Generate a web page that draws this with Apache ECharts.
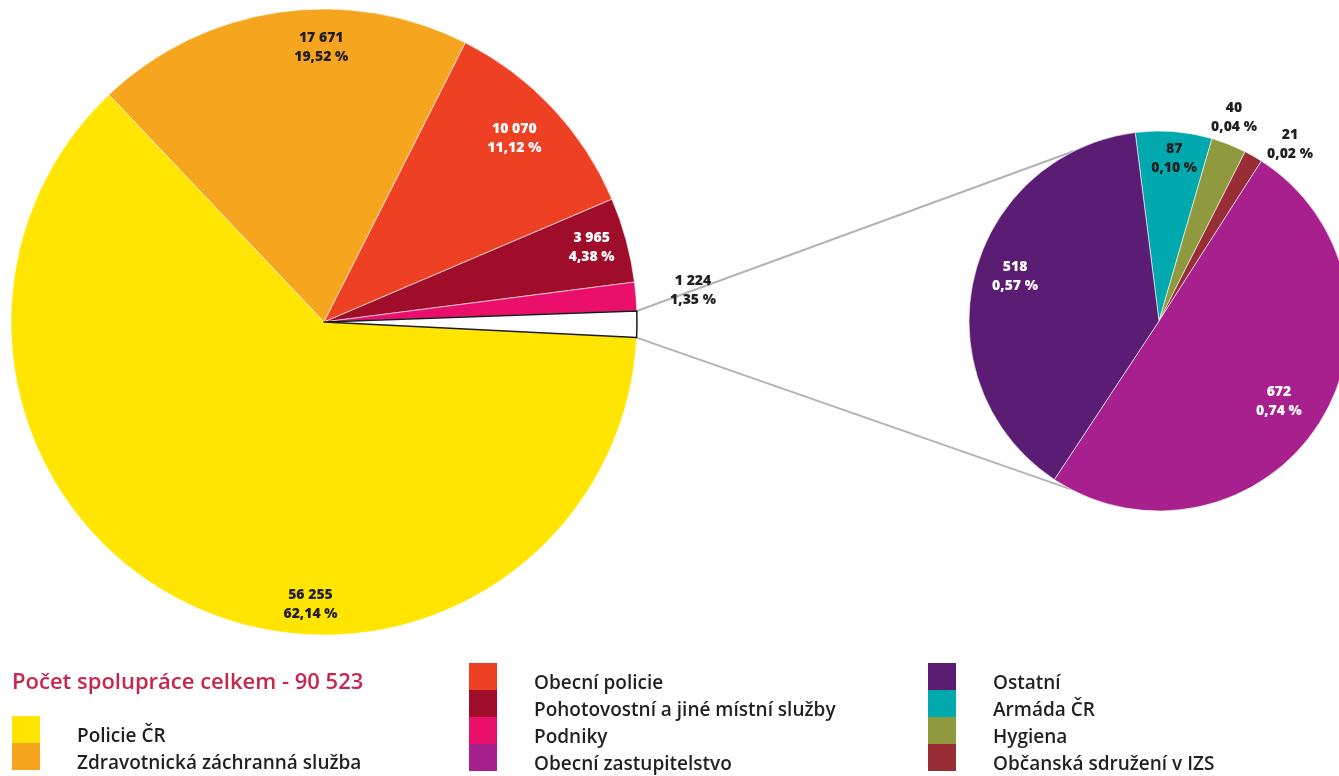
<!DOCTYPE html>
<html><head><meta charset="utf-8">
<script src="https://cdn.jsdelivr.net/npm/echarts@6/dist/echarts.min.js"></script>
<style>html,body{margin:0;padding:0;background:#fff}#c{width:1339px;height:776px}</style>
</head><body><div id="c"></div>
<script>
// ---- data ----
const mainNames = ['Policie ČR','Zdravotnická záchranná služba','Obecní policie','Pohotovostní a jiné místní služby','Podniky','Ostatní subjekty'];
const mainValues = [56255, 17671, 10070, 3965, 1338, 1224];
const subNames = ['Armáda ČR','Hygiena','Občanská sdružení v IZS','Obecní zastupitelstvo','Ostatní'];
const subValues = [87, 40, 21, 672, 518];
const legendCol1 = ['Policie ČR','Zdravotnická záchranná služba'];
const legendCol2 = ['Obecní policie','Pohotovostní a jiné místní služby','Podniky','Obecní zastupitelstvo'];
const legendCol3 = ['Ostatní','Armáda ČR','Hygiena','Občanská sdružení v IZS'];
const titleText = 'Počet spolupráce celkem - ';

// ---- styles ----
const colors = {
  'Policie ČR':'#ffe500',
  'Zdravotnická záchranná služba':'#f6a51f',
  'Obecní policie':'#ee4124',
  'Pohotovostní a jiné místní služby':'#a00d2b',
  'Podniky':'#ea0f6b',
  'Ostatní subjekty':'#ffffff',
  'Armáda ČR':'#00a9ad',
  'Hygiena':'#8f9a3e',
  'Občanská sdružení v IZS':'#992d35',
  'Obecní zastupitelstvo':'#a81f8e',
  'Ostatní':'#5b1c74'
};
const labelStyle = {
  'Policie ČR':{offset:[99,38], color:'#231f20'},
  'Zdravotnická záchranná služba':{offset:[36,-8], color:'#231f20'},
  'Obecní policie':{offset:[-6,0], color:'#ffffff'},
  'Pohotovostní a jiné místní služby':{offset:[8,-4], color:'#ffffff'},
  'Podniky':null,
  'Ostatní subjekty':{offset:[100,-33], color:'#231f20'},
  'Armáda ČR':{offset:[3,-8], color:'#231f20'},
  'Hygiena':{offset:[18,-59], color:'#231f20'},
  'Občanská sdružení v IZS':{offset:[54,-42], color:'#231f20'},
  'Obecní zastupitelstvo':{offset:[-10,-4], color:'#ffffff'},
  'Ostatní':{offset:[7,-9], color:'#ffffff'}
};

const total = mainValues.reduce((a,b)=>a+b,0);
const fmtNum = v => String(v).replace(/\B(?=(\d{3})+(?!\d))/g,' ');
const fmtPct = v => (v/total*100).toFixed(2).replace('.',',') + ' %';

const C1 = [324, 322], R1 = 313, S1 = 357.14;
const C2 = [1159, 321], R2 = 190, S2 = 97.2;
const FONT = '"Open Sans", Lato, sans-serif';

function pieData(names, values){
  return names.map((n,i)=>{
    const d = {name:n, value:values[i], itemStyle:{color:colors[n]}};
    if (n === 'Ostatní subjekty') d.itemStyle = {color:'#ffffff', borderColor:'#1a1a1a', borderWidth:1.5};
    return d;
  });
}
function labelData(names, values){
  return names.map((n,i)=>{
    const ls = labelStyle[n];
    return {name:n, value:values[i],
      label: ls ? {show:true, offset:ls.offset, color:ls.color} : {show:false}};
  });
}
const labelCommon = {
  show:true, position:'inside', fontFamily:FONT, fontWeight:800, fontSize:14, lineHeight:19,
  formatter: p => fmtNum(p.value) + '\n' + fmtPct(p.value)
};

// connector lines from the small white slice to the breakdown pie
const rad = a => a*Math.PI/180;
const whiteStart = S1 - (total - mainValues[mainValues.length-1])/total*360;
const whiteEnd = S1 - 360;
const pt = (c,r,a) => [c[0] + r*Math.cos(rad(a)), c[1] - r*Math.sin(rad(a))];
const pA = pt(C1,R1,whiteStart), pB = pt(C1,R1,whiteEnd);
const qA = pt(C2,R2,116.5), qB = pt(C2,R2,242.2);

// legend: squares (no text) + texts (invisible icons), so text can sit slightly lower
const iconLegend = {
  orient:'vertical', icon:'rect', itemWidth:28, itemHeight:27, itemGap:0, padding:0, height:140,
  selectedMode:false, itemStyle:{borderWidth:0},
  formatter: () => '', textStyle:{fontSize:1}
};
const textLegend = {
  orient:'vertical', icon:'rect', itemWidth:1, itemHeight:27, itemGap:0, padding:0, height:140,
  selectedMode:false, itemStyle:{color:'rgba(0,0,0,0)', borderWidth:0},
  textStyle:{fontFamily:FONT, fontWeight:600, fontSize:19, color:'#231f20', lineHeight:27}
};
const legendCols = [
  {data:legendCol1, left:12, top:716},
  {data:legendCol2, left:469, top:663},
  {data:legendCol3, left:928, top:663}
];
const TEXT_DX = 59, TEXT_DY = 7;
const legends = [];
legendCols.forEach(c => {
  legends.push(Object.assign({}, iconLegend, {data:c.data, left:c.left, top:c.top}));
  legends.push(Object.assign({}, textLegend, {data:c.data, left:c.left + TEXT_DX, top:c.top + TEXT_DY}));
});

const chart = echarts.init(document.getElementById('c'), null, {renderer:'canvas'});
chart.setOption({
  animation:false,
  backgroundColor:'#ffffff',
  title:{text: titleText + fmtNum(total), left:12, top:672, padding:0,
    textStyle:{color:'#c9264c', fontFamily:FONT, fontWeight:600, fontSize:22}},
  legend: legends,
  graphic:[
    {type:'line', z:-1, shape:{x1:pA[0],y1:pA[1],x2:qA[0],y2:qA[1]}, style:{stroke:'#b3b3b3', lineWidth:2}},
    {type:'line', z:-1, shape:{x1:pB[0],y1:pB[1],x2:qB[0],y2:qB[1]}, style:{stroke:'#b3b3b3', lineWidth:2}}
  ],
  series:[
    {type:'pie', center:C1, radius:R1, startAngle:S1, clockwise:true, silent:true,
     label:{show:false}, labelLine:{show:false}, emphasis:{disabled:true},
     itemStyle:{borderColor:'#ffffff', borderWidth:0.6},
     data: pieData(mainNames, mainValues)},
    {type:'pie', center:C1, radius:[R1*0.7, R1], startAngle:S1, clockwise:true, silent:true,
     itemStyle:{color:'rgba(0,0,0,0)', borderWidth:0}, emphasis:{disabled:true},
     labelLine:{show:false}, label:labelCommon, avoidLabelOverlap:false,
     data: labelData(mainNames, mainValues)},
    {type:'pie', center:C2, radius:R2, startAngle:S2, clockwise:true, silent:true,
     label:{show:false}, labelLine:{show:false}, emphasis:{disabled:true},
     itemStyle:{borderColor:'#ffffff', borderWidth:0.6},
     data: pieData(subNames, subValues)},
    {type:'pie', center:C2, radius:[R2*0.6, R2], startAngle:S2, clockwise:true, silent:true,
     itemStyle:{color:'rgba(0,0,0,0)', borderWidth:0}, emphasis:{disabled:true},
     labelLine:{show:false}, label:labelCommon, avoidLabelOverlap:false,
     data: labelData(subNames, subValues)}
  ]
});
</script></body></html>
